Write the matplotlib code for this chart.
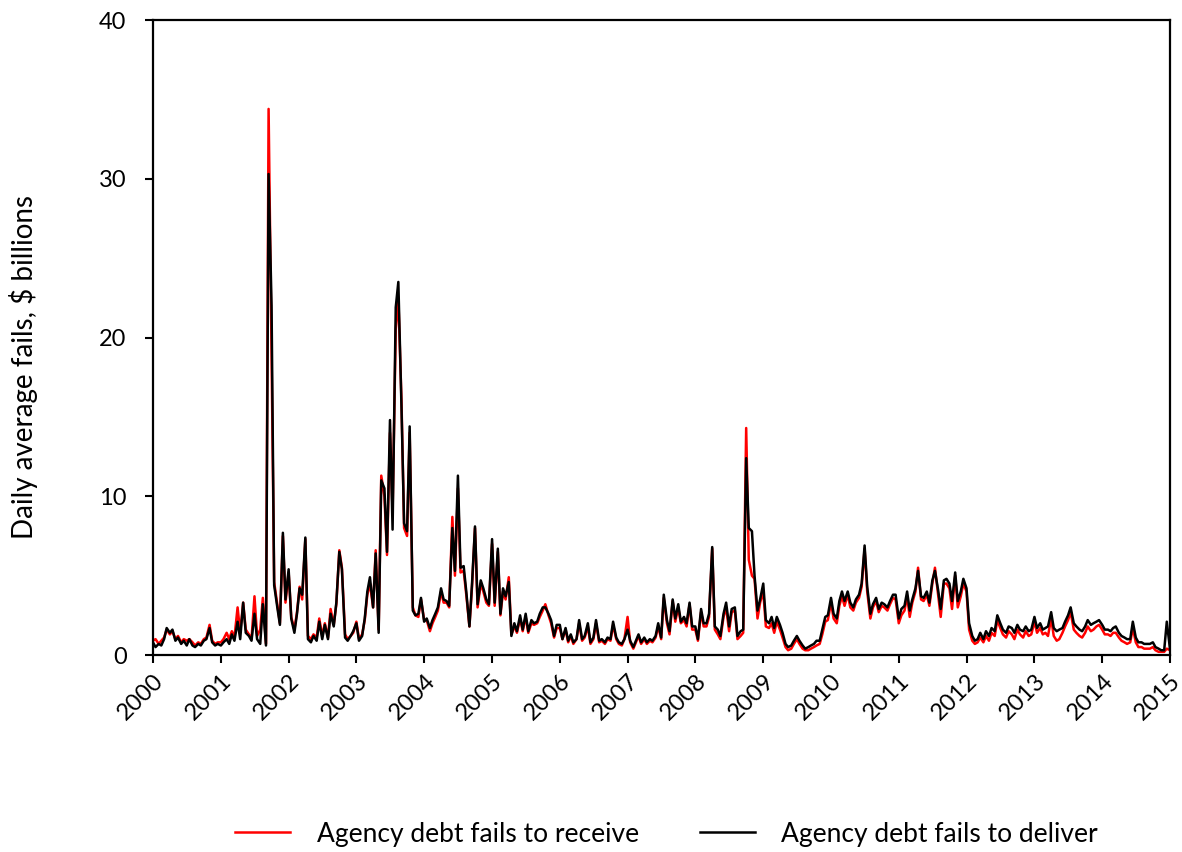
import numpy as np
import pandas as pd
import matplotlib
matplotlib.use('Agg')
import matplotlib.pyplot as plt
import matplotlib.dates as mdates

plt.rcParams['font.family'] = ['Lato', 'DejaVu Sans']

dates = list(pd.date_range('2000-01-01', periods=360, freq='SMS')) + [pd.Timestamp('2015-01-01')]

fails_deliver = [
    0.8, 0.5, 0.7, 0.6, 1.0, 1.7, 1.4, 1.6, 0.9, 1.1, 0.7, 0.9, 0.6, 1.0, 0.6, 0.5, 0.7, 0.6, 0.9, 1.0, 1.7, 0.8, 0.6, 0.7,
    0.6, 0.8, 1.0, 0.7, 1.3, 0.9, 2.1, 1.0, 3.3, 1.4, 1.2, 0.9, 2.6, 1.0, 0.7, 3.2, 0.6, 30.3, 22.0, 4.4, 3.0, 1.9, 7.7, 3.5,
    5.4, 2.3, 1.4, 2.6, 4.2, 3.8, 7.4, 1.0, 0.8, 1.2, 0.9, 2.1, 1.0, 1.9, 1.0, 2.6, 1.8, 3.3, 6.5, 5.4, 1.1, 0.9, 1.2, 1.5,
    2.0, 0.9, 1.2, 2.3, 4.0, 4.9, 3.0, 6.4, 1.4, 11.0, 10.5, 6.5, 14.8, 7.9, 21.9, 23.5, 15.6, 8.3, 7.8, 14.4, 2.8, 2.5, 2.6, 3.6,
    2.1, 2.3, 1.7, 2.2, 2.6, 3.0, 4.2, 3.5, 3.4, 3.1, 8.0, 5.3, 11.3, 5.5, 5.6, 4.0, 1.8, 4.5, 8.1, 3.2, 4.7, 4.2, 3.5, 3.2,
    7.3, 3.3, 6.7, 2.6, 4.2, 3.7, 4.6, 1.2, 2.0, 1.5, 2.5, 1.6, 2.6, 1.5, 2.2, 2.0, 2.1, 2.6, 3.0, 3.0, 2.6, 2.2, 1.2, 1.9,
    1.9, 1.0, 1.7, 0.9, 1.3, 0.8, 1.0, 2.2, 1.0, 1.2, 2.0, 0.8, 1.1, 2.2, 0.9, 1.0, 0.8, 1.1, 1.0, 2.1, 1.1, 0.8, 0.7, 1.0,
    1.6, 0.9, 0.5, 0.9, 1.3, 0.8, 1.1, 0.8, 1.0, 0.9, 1.2, 2.0, 1.1, 3.8, 2.2, 1.5, 3.5, 2.3, 3.2, 2.1, 2.4, 2.0, 3.3, 1.8,
    1.8, 1.0, 2.9, 2.0, 2.0, 2.6, 6.8, 1.8, 1.6, 1.2, 2.6, 3.3, 1.8, 2.9, 3.0, 1.2, 1.5, 1.6, 12.4, 8.0, 7.8, 5.0, 2.8, 3.5,
    4.5, 2.2, 2.0, 2.4, 1.7, 2.4, 1.9, 1.4, 0.7, 0.5, 0.6, 0.9, 1.2, 0.9, 0.6, 0.4, 0.5, 0.6, 0.7, 0.9, 0.9, 1.6, 2.4, 2.5,
    3.6, 2.6, 2.3, 3.4, 4.0, 3.4, 4.0, 3.3, 3.0, 3.5, 3.8, 4.5, 6.9, 4.3, 2.6, 3.2, 3.6, 2.9, 3.3, 3.2, 3.0, 3.4, 3.8, 3.8,
    2.3, 2.9, 3.1, 4.0, 2.8, 3.5, 4.2, 5.3, 3.7, 3.6, 4.0, 3.3, 4.7, 5.3, 4.1, 2.9, 4.7, 4.8, 4.5, 3.4, 5.2, 3.4, 4.0, 4.8,
    4.2, 2.0, 1.2, 0.9, 1.0, 1.4, 1.0, 1.5, 1.2, 1.7, 1.5, 2.5, 2.0, 1.6, 1.4, 1.8, 1.7, 1.4, 1.9, 1.6, 1.5, 1.8, 1.5, 1.6,
    2.4, 1.7, 2.0, 1.6, 1.7, 1.8, 2.7, 1.7, 1.5, 1.6, 1.7, 2.1, 2.5, 3.0, 2.0, 1.8, 1.6, 1.5, 1.8, 2.2, 1.9, 2.0, 2.1, 2.2,
    1.9, 1.6, 1.6, 1.5, 1.7, 1.8, 1.4, 1.2, 1.1, 1.0, 1.0, 2.1, 1.1, 0.8, 0.8, 0.7, 0.7, 0.7, 0.8, 0.5, 0.4, 0.3, 0.3, 2.1,
    0.4,
]

fails_receive = [
    0.9, 1.0, 0.7, 0.9, 1.1, 1.6, 1.3, 1.5, 1.0, 1.2, 0.8, 1.0, 0.9, 1.0, 0.8, 0.6, 0.8, 0.7, 1.0, 1.1, 1.9, 0.9, 0.7, 0.8,
    0.8, 1.0, 1.4, 1.0, 1.5, 1.1, 3.0, 1.4, 3.3, 1.6, 1.3, 1.0, 3.7, 1.2, 1.6, 3.6, 0.7, 34.4, 19.0, 4.6, 3.2, 2.0, 7.5, 3.3,
    5.2, 2.4, 1.6, 2.7, 4.3, 3.5, 7.3, 1.2, 1.0, 1.3, 1.1, 2.3, 1.2, 2.0, 1.1, 2.9, 1.9, 3.2, 6.6, 5.5, 1.3, 1.0, 1.2, 1.4,
    2.1, 1.0, 1.3, 2.2, 3.8, 4.5, 3.0, 6.6, 1.6, 11.3, 10.0, 6.3, 14.0, 9.0, 20.5, 22.5, 16.0, 8.0, 7.5, 14.0, 3.0, 2.5, 2.4, 3.5,
    2.2, 2.2, 1.5, 2.0, 2.4, 2.8, 4.0, 3.3, 3.3, 3.0, 8.7, 5.0, 10.5, 5.2, 5.3, 3.8, 1.8, 4.3, 8.0, 3.0, 4.5, 4.0, 3.3, 3.1,
    7.0, 3.1, 6.5, 2.5, 4.0, 3.5, 4.9, 1.3, 1.8, 1.4, 2.3, 1.5, 2.4, 1.4, 2.0, 1.9, 2.0, 2.4, 2.8, 3.2, 2.5, 2.0, 1.1, 1.7,
    1.7, 1.0, 1.6, 0.8, 1.2, 0.7, 1.0, 2.0, 0.9, 1.1, 1.8, 0.7, 1.0, 2.0, 0.8, 0.9, 0.7, 1.0, 0.9, 1.9, 1.0, 0.7, 0.6, 1.0,
    2.4, 0.8, 0.4, 0.8, 1.2, 0.7, 1.0, 0.7, 0.9, 0.8, 1.1, 1.8, 1.0, 3.6, 2.0, 1.3, 3.4, 2.1, 3.0, 2.0, 2.2, 1.8, 3.2, 1.6,
    1.6, 0.9, 2.7, 1.8, 1.8, 2.4, 6.7, 1.6, 1.3, 1.0, 2.4, 3.0, 1.5, 2.7, 2.8, 1.0, 1.2, 1.4, 14.3, 6.0, 5.0, 4.8, 2.3, 3.3,
    4.0, 1.8, 1.7, 2.0, 1.4, 2.1, 1.6, 1.1, 0.5, 0.3, 0.4, 0.7, 1.0, 0.7, 0.4, 0.3, 0.3, 0.4, 0.5, 0.6, 0.7, 1.3, 2.1, 2.2,
    3.3, 2.3, 2.0, 3.1, 3.7, 3.1, 3.8, 3.0, 2.8, 3.3, 3.6, 4.3, 6.7, 4.0, 2.3, 3.0, 3.4, 2.7, 3.1, 3.0, 2.8, 3.2, 3.6, 3.5,
    2.0, 2.5, 2.8, 3.7, 2.4, 3.3, 4.0, 5.5, 3.5, 3.4, 3.8, 3.1, 4.5, 5.5, 3.8, 2.4, 4.5, 4.5, 4.2, 2.9, 5.0, 3.0, 3.7, 4.5,
    4.0, 1.6, 0.9, 0.7, 0.8, 1.1, 0.8, 1.2, 0.9, 1.4, 1.2, 2.2, 1.7, 1.3, 1.1, 1.5, 1.3, 1.0, 1.6, 1.3, 1.1, 1.5, 1.2, 1.3,
    2.1, 1.4, 1.7, 1.3, 1.4, 1.2, 2.3, 1.2, 0.9, 1.0, 1.4, 1.8, 2.2, 2.7, 1.6, 1.4, 1.2, 1.1, 1.4, 1.8, 1.5, 1.6, 1.8, 1.9,
    1.6, 1.3, 1.3, 1.2, 1.4, 1.4, 1.1, 0.9, 0.8, 0.7, 0.8, 1.7, 0.8, 0.5, 0.5, 0.4, 0.4, 0.4, 0.5, 0.3, 0.2, 0.2, 0.2, 0.4,
    0.3,
]

fig = plt.figure(figsize=(11.82, 8.52), dpi=100)
ax = fig.add_axes([0.1294, 0.2312, 0.8604, 0.7453])

ax.plot(dates, fails_receive, color='#ff0000', lw=1.8, label='Agency debt fails to receive')
ax.plot(dates, fails_deliver, color='black', lw=1.8, label='Agency debt fails to deliver')

ax.set_xlim(pd.Timestamp('2000-01-01'), pd.Timestamp('2015-01-01'))
ax.set_ylim(0, 40)
ax.set_yticks([0, 10, 20, 30, 40])
ax.xaxis.set_major_locator(mdates.YearLocator())
ax.xaxis.set_major_formatter(mdates.DateFormatter('%Y'))
for lbl in ax.get_xticklabels():
    lbl.set_rotation(45)
    lbl.set_ha('right')
    lbl.set_rotation_mode('anchor')

for s in ax.spines.values():
    s.set_linewidth(1.6)
ax.tick_params(axis='both', direction='out', length=6, width=1.5, labelsize=17, colors='black')
ax.tick_params(axis='y', pad=13)
ax.tick_params(axis='x', pad=5)
ax.set_ylabel('Daily average fails, $ billions', fontsize=20)
ax.yaxis.set_label_coords(-0.113, 0.454)

ax.legend(loc='upper center', bbox_to_anchor=(0.505, -0.225), ncol=2, frameon=False,
          fontsize=19, handlelength=2.1, columnspacing=2.3, handletextpad=1.0)

plt.savefig('out.png', dpi=100, facecolor='white')
plt.close()
